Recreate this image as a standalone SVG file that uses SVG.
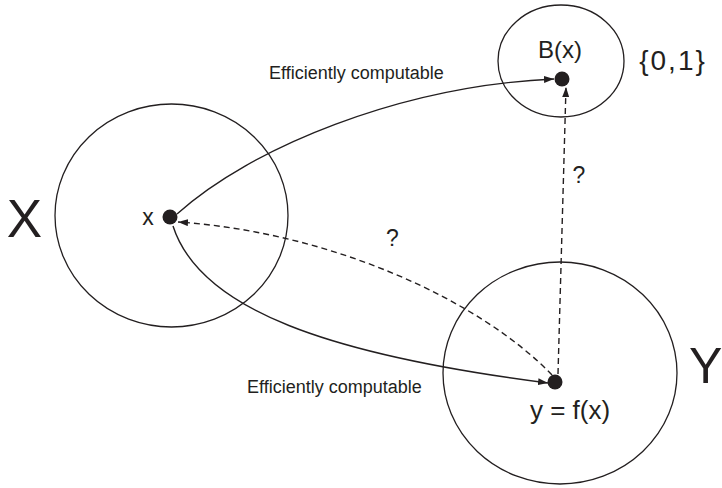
<svg xmlns="http://www.w3.org/2000/svg" width="722" height="488" viewBox="0 0 722 488">
<style>
.set{fill:none;stroke:#231f20;stroke-width:1.3}
.dot{fill:#231f20}
.c{fill:none;stroke:#231f20;stroke-width:1.4}
.d{stroke-dasharray:6,4}
text{font-family:"Liberation Sans",Arial,sans-serif;fill:#231f20}
</style>
<defs>
<marker id="ah" viewBox="0 0 10 7" refX="10" refY="3.5" markerWidth="10" markerHeight="7" markerUnits="userSpaceOnUse" orient="auto">
<path d="M0,0 L10,3.5 L0,7 Z" fill="#231f20"/>
</marker>
</defs>
<rect width="722" height="488" fill="#fff"/>
<g id="setX">
<ellipse class="set" cx="171.5" cy="215.5" rx="116.5" ry="111.5"/>
<text x="24.5" y="237" font-size="53" text-anchor="middle">X</text>
</g>
<g id="setB">
<ellipse class="set" cx="561" cy="61" rx="63" ry="56"/>
<text x="673" y="70" font-size="28" letter-spacing="2" text-anchor="middle">{0,1}</text>
</g>
<g id="setY">
<ellipse class="set" cx="560" cy="373" rx="117" ry="111"/>
<text x="689" y="383" font-size="50">Y</text>
</g>
<g id="nodeX">
<circle class="dot" cx="170" cy="217" r="7.5"/>
<text x="148" y="225" font-size="23" text-anchor="middle">x</text>
</g>
<g id="nodeB">
<circle class="dot" cx="562" cy="79" r="7.5"/>
<text x="560" y="58" font-size="24" text-anchor="middle">B(x)</text>
</g>
<g id="nodeY">
<circle class="dot" cx="555" cy="382" r="7.5"/>
<text x="570" y="419" font-size="26" text-anchor="middle">y = f(x)</text>
</g>
<g id="connectors">
<path class="c" d="M177,214 C250,148 400,86 554,79" marker-end="url(#ah)"/>
<path class="c" d="M173,226 C200,310 330,355 548,383" marker-end="url(#ah)"/>
<path class="c d" d="M552,375 C480,300 330,232 178,222" marker-end="url(#ah)"/>
<path class="c d" d="M558,374 L566,87" marker-end="url(#ah)"/>
<text x="269" y="79" font-size="18">Efficiently computable</text>
<text x="247" y="393" font-size="18">Efficiently computable</text>
<text x="392.5" y="246" font-size="23" text-anchor="middle">?</text>
<text x="579" y="183" font-size="23" text-anchor="middle">?</text>
</g>
</svg>
